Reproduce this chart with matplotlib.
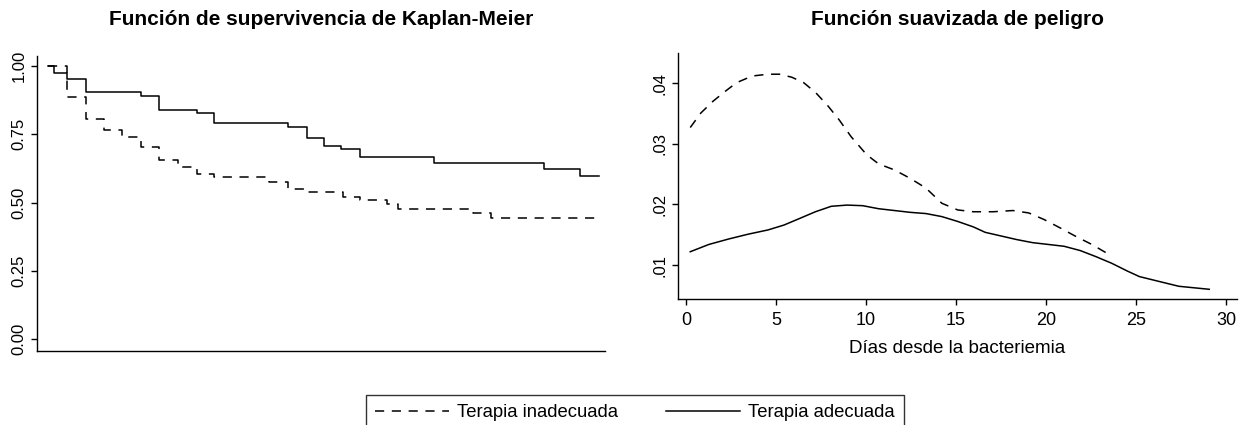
import numpy as np
import matplotlib
matplotlib.use("Agg")
from matplotlib import pyplot as plt

plt.rcParams['font.family'] = ['Liberation Sans', 'DejaVu Sans']

#%% Kaplan-Meier steps (days, survival)
km_t_adec = [0, 0.3, 1.0, 2.0, 4.9, 5.8, 7.8, 8.7, 12.6, 13.6, 14.5, 15.4, 16.4, 20.3, 26.1, 28.0, 29.0]
km_s_adec = [1.0, 0.973, 0.951, 0.904, 0.891, 0.839, 0.827, 0.793, 0.777, 0.735, 0.707, 0.695, 0.666,
             0.646, 0.623, 0.599, 0.599]
km_t_inad = [0, 1.0, 2.0, 2.95, 3.9, 4.9, 5.8, 6.8, 7.8, 8.7, 11.6, 12.6, 13.6, 15.5, 16.4, 17.8,
             18.4, 22.35, 23.3, 28.8]
km_s_inad = [1.0, 0.888, 0.805, 0.766, 0.741, 0.705, 0.656, 0.629, 0.605, 0.593, 0.577, 0.55, 0.539,
             0.522, 0.51, 0.495, 0.477, 0.462, 0.443, 0.443]

#%% Smoothed hazard
hz_t_inad = [0.24, 0.83, 1.49, 2.15, 2.81, 3.68, 4.56, 5.2, 5.88, 6.54, 7.19, 7.85, 8.5, 9.17, 10.04,
             10.7, 11.58, 12.46, 13.33, 14.21, 15.09, 15.96, 17.06, 18.16, 19.04, 19.9, 20.8, 21.67,
             22.54, 23.64]
hz_h_inad = [0.0327, 0.0351, 0.0370, 0.0386, 0.0401, 0.0412, 0.0415, 0.0415, 0.0410, 0.0401, 0.0385,
             0.0364, 0.0340, 0.0312, 0.0282, 0.0267, 0.0257, 0.0243, 0.0227, 0.0202, 0.0191, 0.0188,
             0.0188, 0.0190, 0.0186, 0.0175, 0.0161, 0.0147, 0.0134, 0.0115]
hz_t_adec = [0.24, 1.27, 2.37, 3.46, 4.56, 5.44, 6.32, 7.19, 8.07, 8.95, 9.82, 10.7, 11.58, 12.46,
             13.33, 14.21, 15.09, 15.96, 16.62, 17.5, 18.38, 19.25, 20.13, 21.0, 21.89, 22.76, 23.64,
             24.52, 25.18, 26.27, 27.37, 29.06]
hz_h_adec = [0.0122, 0.0134, 0.0143, 0.0151, 0.0158, 0.0166, 0.0177, 0.0188, 0.0197, 0.0199, 0.0198,
             0.0193, 0.0190, 0.0187, 0.0185, 0.0180, 0.0172, 0.0163, 0.0154, 0.0148, 0.0142, 0.0137,
             0.0134, 0.0131, 0.0124, 0.0114, 0.0103, 0.0090, 0.0081, 0.0073, 0.0065, 0.0060]

km_ticks = [0.0, 0.25, 0.5, 0.75, 1.0]
km_labels = ['0.00', '0.25', '0.50', '0.75', '1.00']
hz_yticks = [0.01, 0.02, 0.03, 0.04]
hz_ylabels = ['.01', '.02', '.03', '.04']
hz_xticks = [0, 5, 10, 15, 20, 25, 30]

#%% figure
fig = plt.figure(figsize=(12.39, 4.25), dpi=100)
W, H = 1239, 425
ax1 = fig.add_axes([37 / W, 1 - 351 / H, (605 - 37) / W, (351 - 56) / H])
ax2 = fig.add_axes([678 / W, 1 - 299 / H, (1237 - 678) / W, (299 - 53) / H])

lw = 1.1
dash = (6, 5)

ax1.step(km_t_inad, km_s_inad, where='post', color='black', lw=lw, linestyle=(0, dash),
         label='Terapia inadecuada')
ax1.step(km_t_adec, km_s_adec, where='post', color='black', lw=lw, label='Terapia adecuada')
ax1.set_xlim(-0.6, 29.3)
ax1.set_ylim(-0.044, 1.037)
ax1.set_xticks([])
ax1.set_yticks(km_ticks, km_labels)
ax1.set_title('Función de supervivencia de Kaplan-Meier', fontsize=15, fontweight='bold', pad=22.5)

ax2.plot(hz_t_inad, hz_h_inad, color='black', lw=lw, linestyle=(0, dash))
ax2.plot(hz_t_adec, hz_h_adec, color='black', lw=lw)
ax2.set_xlim(-0.44, 30.6)
ax2.set_ylim(0.0044, 0.045)
ax2.set_xticks(hz_xticks)
ax2.set_yticks(hz_yticks, hz_ylabels)
ax2.set_xlabel('Días desde la bacteriemia', fontsize=13.5, labelpad=8)
ax2.set_title('Función suavizada de peligro', fontsize=15, fontweight='bold', pad=20.5)

for ax in (ax1, ax2):
    for s in ('top', 'right'):
        ax.spines[s].set_visible(False)
    for s in ('left', 'bottom'):
        ax.spines[s].set_linewidth(1.0)
    ax.tick_params(direction='out', length=4.5, width=1.0)
    ax.tick_params(axis='x', labelsize=13, pad=5)
    ax.tick_params(axis='y', labelrotation=90, labelsize=12, pad=3)
    for lab in ax.get_yticklabels():
        lab.set_va('center')

h, l = ax1.get_legend_handles_labels()
leg = fig.legend(h, l, loc='upper center', bbox_to_anchor=(635 / W, 1 - 395 / H), ncol=2,
                 fontsize=13.3, frameon=True, fancybox=False, borderaxespad=0, borderpad=0.5,
                 handlelength=4.0, handletextpad=0.45, columnspacing=2.6)
leg.get_frame().set_edgecolor('black')
leg.get_frame().set_linewidth(1.0)

plt.savefig('out.png', dpi=100)
